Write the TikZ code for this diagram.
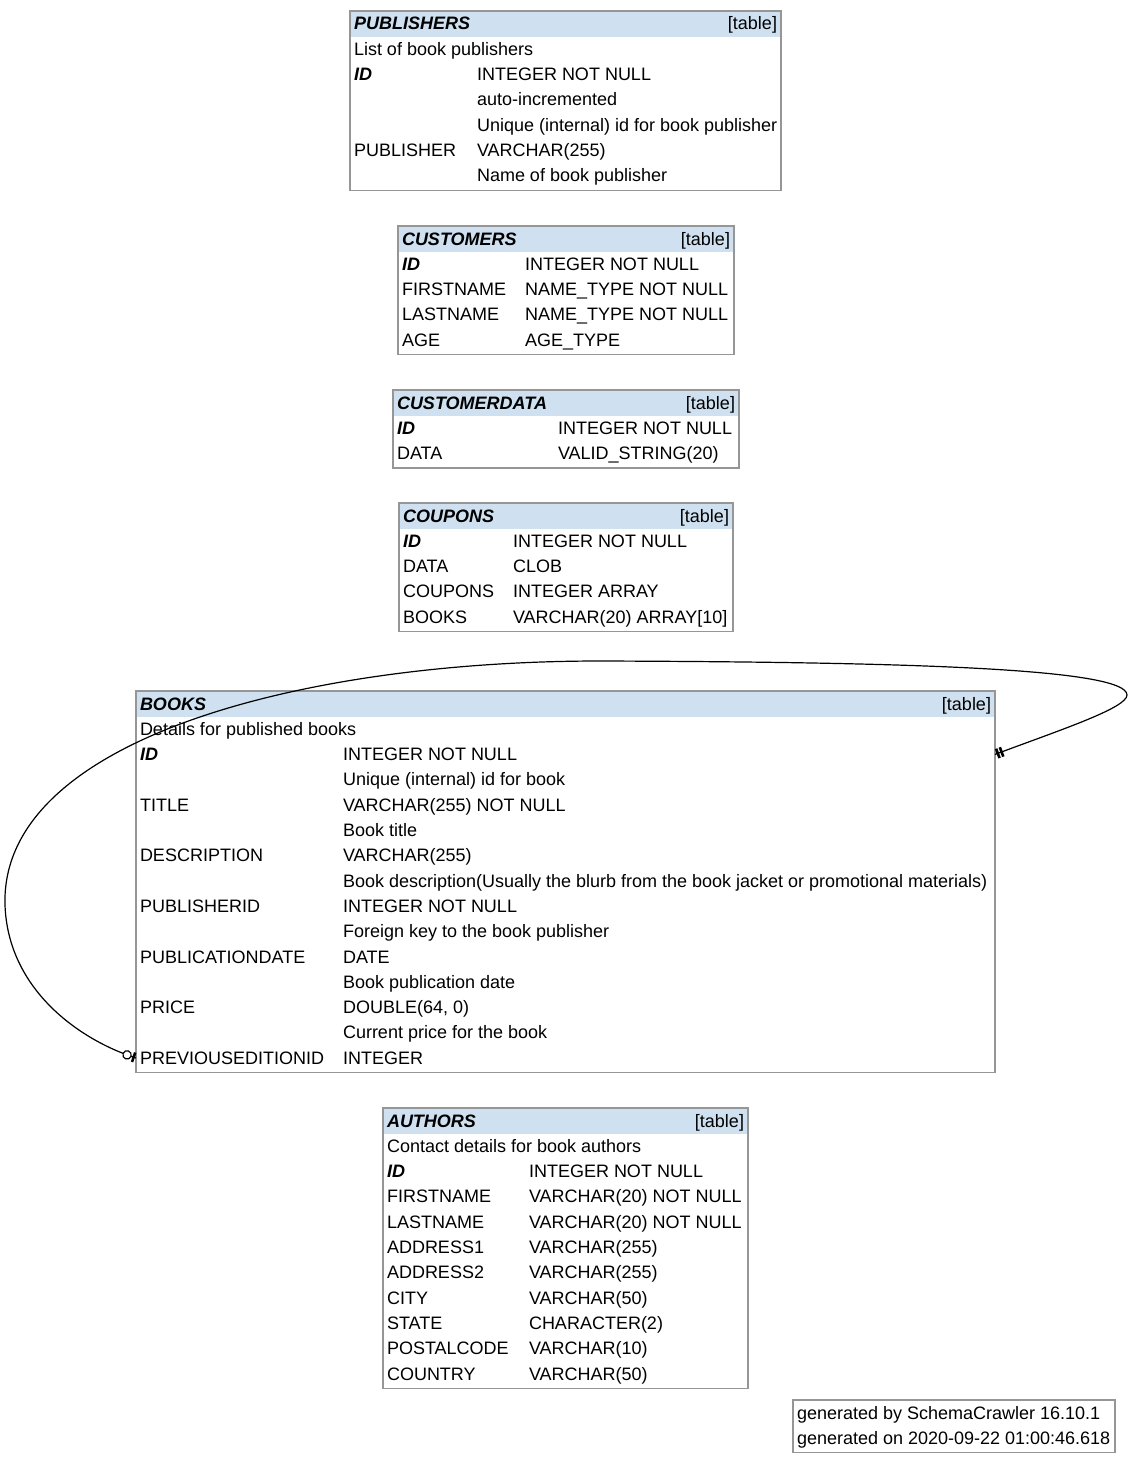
\documentclass[tikz,border=0pt]{standalone}
\usepackage{fontspec}
\setmainfont{Liberation Sans}
\usetikzlibrary{calc,decorations.markings}
\definecolor{hdrblue}{RGB}{207,225,240}
\definecolor{bordergray}{RGB}{150,150,150}
\newcommand{\rtx}[5]{\node[txt] (#1) at (#2,{#3+19+25.3*#4}) {#5};}
\newcommand{\tname}[1]{{\bfseries\itshape #1}}
\newcommand{\mktbl}[5]{%
  \node[tbox,minimum width={#3-#2},minimum height={25.3*#5+2.2}] (#1) at (#2,#4) {};
}
\newcommand{\mkhdr}[6]{%
  \fill[hdrblue] ($(#1.north west)+(1,1)$) rectangle ($(#1.north east)+(-1,26)$);
  \node[txt] (#1title) at (#2+4,#4+19) {\tname{#5}};
  \node[tagtxt] (#1tag) at (#3-4,#4+19) {#6};
}
\begin{document}
\begin{tikzpicture}[x=1pt,y=-1pt,
  txt/.style={anchor=base west,inner sep=0pt,outer sep=0pt,font=\fontsize{18}{18}\selectfont},
  tagtxt/.style={anchor=base east,inner sep=0pt,outer sep=0pt,font=\fontsize{18}{18}\selectfont},
  tbox/.style={draw=bordergray,line width=1.3pt,anchor=north west,inner sep=0pt,outer sep=0pt,fill=white},
  rel/.style={line width=1.2pt,black},
  barmark/.style={line width=2.6pt,black},
  relmarks/.style={postaction={decorate},decoration={markings,
    mark=at position 3pt with {\draw[barmark] (0pt,-5pt) -- (0pt,5pt);},
    mark=at position 7pt with {\draw[barmark] (0pt,-5pt) -- (0pt,5pt);},
    mark=at position -9.5pt with {\draw[line width=1.2pt,fill=white] (0pt,0pt) circle[radius=4.2pt];},
    mark=at position -2.5pt with {\draw[barmark] (0pt,-5pt) -- (0pt,5pt);}}}]
\useasboundingbox (0,0) rectangle (1132,1464);

% PUBLISHERS
\mktbl{pub}{350}{781}{11}{7}
\mkhdr{pub}{350}{781}{11}{PUBLISHERS}{[table]}
\rtx{pubr1}{354}{11}{1}{List of book publishers}
\rtx{pubr2a}{354}{11}{2}{\tname{ID}}
\rtx{pubr2b}{477}{11}{2}{INTEGER NOT NULL}
\rtx{pubr3b}{477}{11}{3}{auto-incremented}
\rtx{pubr4b}{477}{11}{4}{Unique (internal) id for book publisher}
\rtx{pubr5a}{354}{11}{5}{PUBLISHER}
\rtx{pubr5b}{477}{11}{5}{VARCHAR(255)}
\rtx{pubr6b}{477}{11}{6}{Name of book publisher}

% CUSTOMERS
\mktbl{cus}{398}{734}{226}{5}
\mkhdr{cus}{398}{734}{226}{CUSTOMERS}{[table]}
\rtx{cusr1a}{402}{226}{1}{\tname{ID}}
\rtx{cusr1b}{525}{226}{1}{INTEGER NOT NULL}
\rtx{cusr2a}{402}{226}{2}{FIRSTNAME}
\rtx{cusr2b}{525}{226}{2}{NAME\_TYPE NOT NULL}
\rtx{cusr3a}{402}{226}{3}{LASTNAME}
\rtx{cusr3b}{525}{226}{3}{NAME\_TYPE NOT NULL}
\rtx{cusr4a}{402}{226}{4}{AGE}
\rtx{cusr4b}{525}{226}{4}{AGE\_TYPE}

% CUSTOMERDATA
\mktbl{cd}{393}{739}{390}{3}
\mkhdr{cd}{393}{739}{390}{CUSTOMERDATA}{[table]}
\rtx{cdr1a}{397}{390}{1}{\tname{ID}}
\rtx{cdr1b}{558}{390}{1}{INTEGER NOT NULL}
\rtx{cdr2a}{397}{390}{2}{DATA}
\rtx{cdr2b}{558}{390}{2}{VALID\_STRING(20)}

% COUPONS
\mktbl{cou}{399}{733}{503}{5}
\mkhdr{cou}{399}{733}{503}{COUPONS}{[table]}
\rtx{cour1a}{403}{503}{1}{\tname{ID}}
\rtx{cour1b}{513}{503}{1}{INTEGER NOT NULL}
\rtx{cour2a}{403}{503}{2}{DATA}
\rtx{cour2b}{513}{503}{2}{CLOB}
\rtx{cour3a}{403}{503}{3}{COUPONS}
\rtx{cour3b}{513}{503}{3}{INTEGER ARRAY}
\rtx{cour4a}{403}{503}{4}{BOOKS}
\rtx{cour4b}{513}{503}{4}{VARCHAR(20) ARRAY[10]}

% BOOKS
\mktbl{books}{136}{995}{691}{15}
\mkhdr{books}{136}{995}{691}{BOOKS}{[table]}
\rtx{bdesc}{140}{691}{1}{Details for published books}
\rtx{bid}{140}{691}{2}{\tname{ID}}
\rtx{bidt}{343}{691}{2}{INTEGER NOT NULL}
\rtx{bidc}{343}{691}{3}{Unique (internal) id for book}
\rtx{btit}{140}{691}{4}{TITLE}
\rtx{btitt}{343}{691}{4}{VARCHAR(255) NOT NULL}
\rtx{btitc}{343}{691}{5}{Book title}
\rtx{bdes}{140}{691}{6}{DESCRIPTION}
\rtx{bdest}{343}{691}{6}{VARCHAR(255)}
\rtx{bdesc2}{343}{691}{7}{Book description(Usually the blurb from the book jacket or promotional materials)}
\rtx{bpub}{140}{691}{8}{PUBLISHERID}
\rtx{bpubt}{343}{691}{8}{INTEGER NOT NULL}
\rtx{bpubc}{343}{691}{9}{Foreign key to the book publisher}
\rtx{bdate}{140}{691}{10}{PUBLICATIONDATE}
\rtx{bdatet}{343}{691}{10}{DATE}
\rtx{bdatec}{343}{691}{11}{Book publication date}
\rtx{bprice}{140}{691}{12}{PRICE}
\rtx{bpricet}{343}{691}{12}{DOUBLE(64, 0)}
\rtx{bpricec}{343}{691}{13}{Current price for the book}
\rtx{bprev}{140}{691}{14}{PREVIOUSEDITIONID}
\rtx{bprevt}{343}{691}{14}{INTEGER}

% AUTHORS
\mktbl{aut}{383}{748}{1108}{11}
\mkhdr{aut}{383}{748}{1108}{AUTHORS}{[table]}
\rtx{autr1}{387}{1108}{1}{Contact details for book authors}
\rtx{autr2a}{387}{1108}{2}{\tname{ID}}
\rtx{autr2b}{529}{1108}{2}{INTEGER NOT NULL}
\rtx{autr3a}{387}{1108}{3}{FIRSTNAME}
\rtx{autr3b}{529}{1108}{3}{VARCHAR(20) NOT NULL}
\rtx{autr4a}{387}{1108}{4}{LASTNAME}
\rtx{autr4b}{529}{1108}{4}{VARCHAR(20) NOT NULL}
\rtx{autr5a}{387}{1108}{5}{ADDRESS1}
\rtx{autr5b}{529}{1108}{5}{VARCHAR(255)}
\rtx{autr6a}{387}{1108}{6}{ADDRESS2}
\rtx{autr6b}{529}{1108}{6}{VARCHAR(255)}
\rtx{autr7a}{387}{1108}{7}{CITY}
\rtx{autr7b}{529}{1108}{7}{VARCHAR(50)}
\rtx{autr8a}{387}{1108}{8}{STATE}
\rtx{autr8b}{529}{1108}{8}{CHARACTER(2)}
\rtx{autr9a}{387}{1108}{9}{POSTALCODE}
\rtx{autr9b}{529}{1108}{9}{VARCHAR(10)}
\rtx{autr10a}{387}{1108}{10}{COUNTRY}
\rtx{autr10b}{529}{1108}{10}{VARCHAR(50)}

% footer
\mktbl{foot}{793}{1115}{1400}{2}
\rtx{footr0}{797}{1400}{0}{generated by SchemaCrawler 16.10.1}
\rtx{footr1}{797}{1400}{1}{generated on 2020-09-22 01:00:46.618}

% self relationship
\draw[rel,relmarks]
  (books.east |- bid) .. controls (1060,730) and (1127,708) .. (1127,695)
  .. controls (1127,668) and (900,662) .. (600,661)
  .. controls (300,661) and (0,740) .. (5,905)
  .. controls (8,990) and (80,1040) .. (books.west |- bprev);
\end{tikzpicture}
\end{document}
